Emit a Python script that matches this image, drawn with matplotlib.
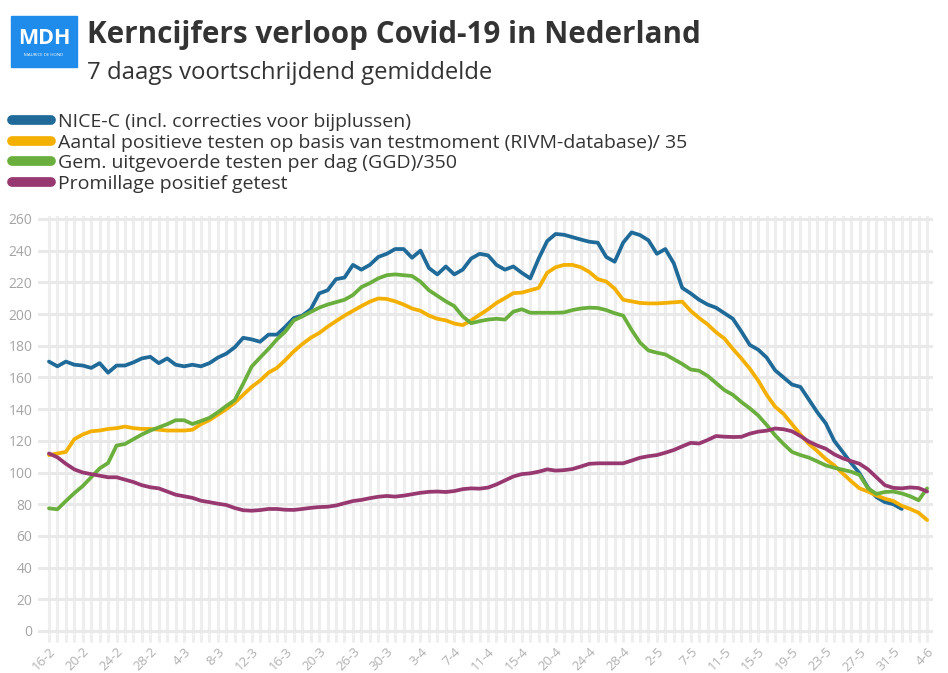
import matplotlib.pyplot as plt
from matplotlib.lines import Line2D
from matplotlib.patches import Rectangle

plt.rcParams['font.family'] = ['Open Sans', 'DejaVu Sans']

# --------- Data (7-daags gemiddelde) ---------
tick_labels = ['16-2', '20-2', '24-2', '28-2', '4-3', '8-3', '12-3', '16-3', '20-3',
               '26-3', '30-3', '3-4', '7-4', '11-4', '15-4', '20-4', '24-4', '28-4',
               '2-5', '7-5', '11-5', '15-5', '19-5', '23-5', '27-5', '31-5', '4-6']
n_days = 105

nice_c = [170, 167, 170, 168, 167.5, 166, 169, 163, 167.5, 167.5,
          169.5, 172, 173, 169, 172, 168, 167, 168, 167, 169,
          172.5, 175, 179, 185, 184, 182.5, 187, 187, 192, 197.5,
          199, 203, 213, 215, 222, 223, 231, 228, 231, 236,
          238, 241, 241, 235.5, 240, 229, 225, 230, 225, 228,
          235, 238, 237, 231, 228, 230, 226, 222.5, 235, 246,
          250.5, 250, 248.5, 247, 245.6, 245, 236, 233, 245, 251.5,
          249.8, 246.5, 238, 241, 232, 216.5, 213, 209, 206, 204,
          200.5, 197, 189, 180.5, 177.5, 172.5, 164.5, 160, 155.5, 154,
          146, 138, 131, 120, 113, 106, 99.5, 90.5, 84.5, 81.3,
          80, 77]

positief = [111, 112, 113, 121, 124, 126, 126.5, 127.5, 128, 129,
            128, 127.5, 127.5, 127, 126.5, 126.5, 126.5, 127, 130.5, 133,
            136.5, 140, 144, 149, 154, 158, 163, 166, 171, 176.5,
            181, 185, 188, 192, 195.5, 199, 202, 205, 207.8, 209.8,
            209.5, 208, 206, 203.5, 202, 199, 197, 196, 194, 193,
            196, 199.5, 203, 207, 210, 213.2, 213.5, 215, 216.5, 226,
            229.5, 231, 231, 229.5, 226.5, 222, 220.5, 216, 209, 208,
            207, 206.7, 206.7, 207, 207.4, 207.8, 202, 197.5, 193.5, 188.5,
            184.5, 178, 172, 165.5, 158, 149, 141.5, 137, 130.5, 124,
            118, 113.5, 108.5, 104.5, 99.5, 94.5, 90, 88, 85.5, 83.5,
            82, 79, 77, 74.6, 70]

testen = [77.4, 76.8, 82, 87, 91.5, 97, 102.6, 106, 117, 118,
          121, 124, 126.5, 128.5, 130.5, 133, 133, 130.6, 132.5, 134.5,
          138, 142, 145.7, 156, 166.8, 172.5, 178, 184, 189, 196,
          198.5, 201.3, 204, 206, 207.5, 209, 212, 217, 219.5, 222.5,
          224.5, 225, 224.5, 224, 220.4, 215, 211.5, 208, 205, 198.5,
          194.2, 195.5, 196.5, 197, 196.5, 201.5, 203, 200.8, 200.8, 200.8,
          200.8, 201, 202.5, 203.5, 204, 203.8, 202.5, 200.5, 199, 190,
          182, 177, 175.6, 174.5, 171.5, 168.5, 165, 164.2, 161, 156.5,
          152, 149, 144.5, 140.5, 136, 130, 123.5, 118, 113, 111,
          109.4, 107, 104.5, 103, 101.8, 100.5, 98.5, 90, 86.5, 87.7,
          88, 86.8, 85, 82.5, 90]

promillage = [112, 109.6, 105.5, 102, 100, 99, 98, 97, 97, 95.5,
              94, 92, 90.7, 90, 88, 86, 85, 84, 82.2, 81.3,
              80.3, 79.5, 77.6, 76.2, 75.9, 76.3, 77, 77, 76.5, 76.4,
              77, 77.7, 78.2, 78.4, 79.2, 80.6, 82, 82.7, 83.8, 84.7,
              85.2, 84.8, 85.4, 86.3, 87.2, 87.8, 88, 87.7, 88.3, 89.5,
              90, 89.8, 90.5, 92.5, 95, 97.5, 99, 99.5, 100.5, 102,
              101.2, 101.5, 102.2, 103.8, 105.5, 105.8, 105.8, 105.8, 105.8, 107.5,
              109.3, 110.3, 111, 112.5, 114.2, 116.5, 118.7, 118.3, 120.5, 123,
              122.6, 122.4, 122.5, 124.5, 125.8, 126.4, 127.8, 127.3, 126, 123,
              119.5, 117, 115, 111.5, 109, 107.2, 105.5, 102, 97, 92,
              90.3, 90, 90.6, 90.2, 88]

series_labels = ['NICE-C (incl. correcties voor bijplussen)',
                 'Aantal positieve testen op basis van testmoment (RIVM-database)/ 35',
                 'Gem. uitgevoerde testen per dag (GGD)/350',
                 'Promillage positief getest']
series_values = [nice_c, positief, testen, promillage]
series_colors = ['#1f6a99', '#f4b000', '#6aaf3d', '#973870']

# --------- Figure ---------
W, H = 948, 673
fig = plt.figure(figsize=(W / 100, H / 100), dpi=100)
ax = fig.add_axes([38 / W, 0.0577, 895 / W, 0.6217])

for values, color in zip(series_values, series_colors):
    ax.plot(range(len(values)), values, color=color, lw=2.7,
            solid_joinstyle='round', solid_capstyle='round', zorder=3)

ax.set_xlim(-1.3, 104.7)
ax.set_ylim(-2, 262)
ax.set_yticks(range(0, 261, 20))
ax.set_xticks(range(0, n_days, 4), tick_labels)
ax.set_xticks(range(n_days), minor=True)
ax.set_axisbelow(True)
ax.grid(axis='y', color='#e9e9e9', lw=2.2)
ax.grid(axis='x', which='both', color='#eeeeee', lw=2.2)
for s in ax.spines.values():
    s.set_visible(False)
ax.tick_params(axis='y', length=0, pad=4, labelsize=10, labelcolor='#a5a5a5')
ax.tick_params(axis='x', which='both', length=6, width=2.2, color='#eeeeee')
ax.tick_params(axis='x', labelsize=9.5, labelcolor='#b0b0b0', pad=2)
for lab in ax.get_xticklabels():
    lab.set_rotation(45)
    lab.set_ha('right')
    lab.set_rotation_mode('anchor')

# --------- Header ---------
fig.patches.append(Rectangle((11 / W, 1 - 67 / H), 66 / W, 51 / H,
                             transform=fig.transFigure, color='#1f8ceb'))
fig.text(44 / W, 1 - 44.5 / H, 'MDH', color='white', fontsize=15.5,
         fontweight='bold', ha='center', va='baseline')
fig.text(44 / W, 1 - 56 / H, 'MAURICE DE HOND', color='white', fontsize=3.2,
         ha='center', va='baseline')
fig.text(87 / W, 1 - 43 / H, 'Kerncijfers verloop Covid-19 in Nederland',
         fontsize=21.3, fontweight='bold', color='#333333', va='baseline')
fig.text(87 / W, 1 - 79 / H, '7 daags voortschrijdend gemiddelde',
         fontsize=17.2, color='#333333', va='baseline')

handles = [Line2D([], [], color=c, lw=7, solid_capstyle='round') for c in series_colors]
fig.legend(handles, series_labels, loc='upper left',
           bbox_to_anchor=(12 / W, 1 - 113 / H), frameon=False, fontsize=14,
           labelcolor='#333333', handlelength=2.0, handletextpad=0.38,
           labelspacing=0.13, borderpad=0, borderaxespad=0)

fig.savefig('out.png', dpi=100)
